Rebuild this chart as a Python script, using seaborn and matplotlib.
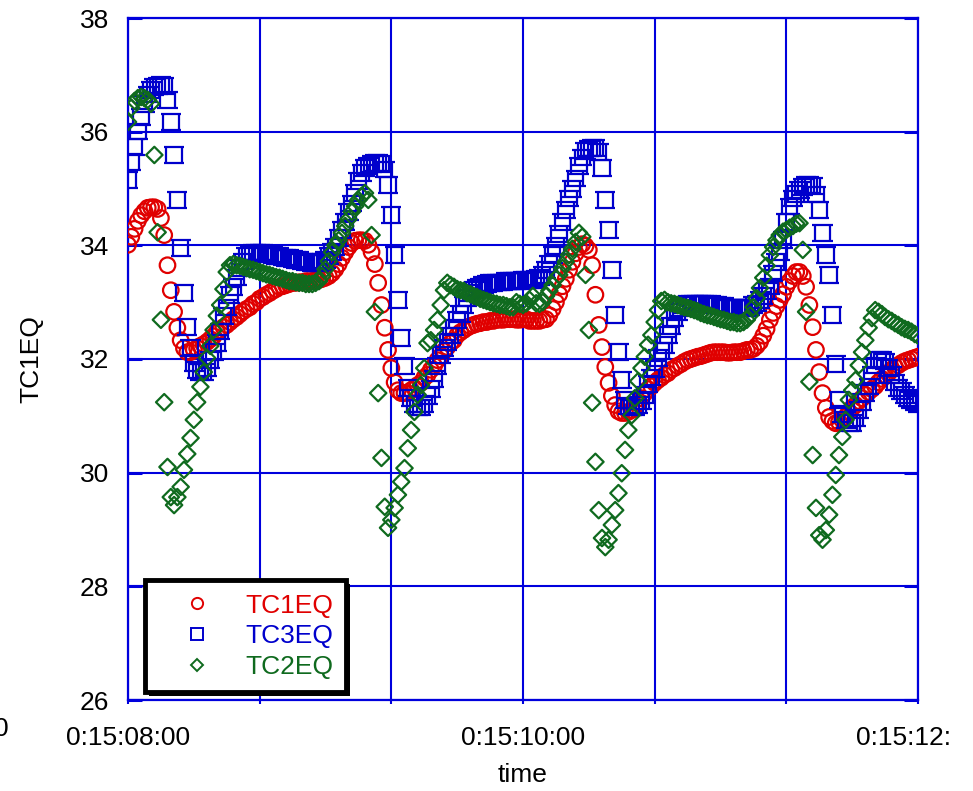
import numpy as np
import pandas as pd
import matplotlib
matplotlib.use("Agg")
import matplotlib.pyplot as plt
from matplotlib.path import Path
from matplotlib.lines import Line2D
from matplotlib.patches import Rectangle
from matplotlib.transforms import IdentityTransform, Bbox
import seaborn as sns

# ---- data: three thermocouple channels sampled at 60 Hz ----
SAMPLE_RATE = 60  # samples per second

tc1eq = [
    34.01, 34.15, 34.29, 34.43, 34.53, 34.60, 34.66, 34.67, 34.67, 34.64,
    34.48, 34.18, 33.65, 33.21, 32.83, 32.55, 32.33, 32.19, 32.12, 32.12,
    32.16, 32.19, 32.23, 32.26, 32.30, 32.35, 32.40, 32.47, 32.51, 32.56,
    32.60, 32.65, 32.70, 32.74, 32.79, 32.84, 32.88, 32.91, 32.97, 33.00,
    33.06, 33.09, 33.13, 33.16, 33.20, 33.23, 33.27, 33.28, 33.30, 33.32,
    33.34, 33.34, 33.35, 33.35, 33.37, 33.37, 33.37, 33.39, 33.39, 33.41,
    33.43, 33.46, 33.51, 33.58, 33.67, 33.78, 33.88, 33.97, 34.04, 34.08,
    34.09, 34.09, 34.08, 34.01, 33.88, 33.67, 33.34, 32.95, 32.55, 32.16,
    31.84, 31.59, 31.45, 31.40, 31.40, 31.40, 31.45, 31.49, 31.54, 31.58,
    31.67, 31.72, 31.81, 31.88, 31.98, 32.05, 32.14, 32.21, 32.28, 32.33,
    32.42, 32.47, 32.51, 32.55, 32.58, 32.60, 32.62, 32.63, 32.65, 32.65,
    32.67, 32.67, 32.69, 32.69, 32.69, 32.70, 32.70, 32.70, 32.69, 32.69,
    32.70, 32.70, 32.67, 32.67, 32.67, 32.67, 32.69, 32.70, 32.77, 32.88,
    33.00, 33.14, 33.28, 33.41, 33.57, 33.71, 33.86, 33.97, 34.02, 33.99,
    33.92, 33.65, 33.13, 32.60, 32.21, 31.86, 31.58, 31.35, 31.19, 31.08,
    31.05, 31.05, 31.07, 31.10, 31.15, 31.22, 31.31, 31.40, 31.47, 31.52,
    31.58, 31.63, 31.67, 31.72, 31.75, 31.81, 31.84, 31.88, 31.91, 31.95,
    31.98, 32.00, 32.02, 32.04, 32.05, 32.07, 32.09, 32.11, 32.12, 32.12,
    32.12, 32.12, 32.11, 32.11, 32.12, 32.12, 32.12, 32.14, 32.16, 32.16,
    32.18, 32.23, 32.30, 32.41, 32.53, 32.69, 32.81, 32.93, 33.04, 33.14,
    33.27, 33.37, 33.46, 33.53, 33.53, 33.46, 33.27, 32.95, 32.56, 32.16,
    31.77, 31.40, 31.14, 30.98, 30.91, 30.87, 30.89, 30.93, 30.98, 31.07,
    31.14, 31.19, 31.26, 31.31, 31.37, 31.42, 31.47, 31.52, 31.59, 31.65,
    31.70, 31.75, 31.81, 31.86, 31.89, 31.93, 31.96, 31.98, 32.00, 32.02, 32.04,
]

tc3eq = [
    35.15, 35.47, 35.73, 36.00, 36.26, 36.49, 36.65, 36.73, 36.79, 36.80,
    36.82, 36.80, 36.56, 36.17, 35.59, 34.80, 33.95, 33.16, 32.56, 32.19,
    31.93, 31.81, 31.77, 31.77, 31.84, 31.98, 32.12, 32.28, 32.48, 32.76,
    32.91, 33.13, 33.27, 33.43, 33.60, 33.72, 33.81, 33.85, 33.87, 33.87,
    33.87, 33.87, 33.85, 33.85, 33.83, 33.81, 33.81, 33.79, 33.78, 33.78,
    33.76, 33.74, 33.74, 33.72, 33.71, 33.71, 33.69, 33.69, 33.69, 33.71,
    33.74, 33.81, 33.88, 33.97, 34.13, 34.27, 34.41, 34.59, 34.74, 34.92,
    35.13, 35.27, 35.36, 35.40, 35.43, 35.45, 35.45, 35.43, 35.33, 35.06,
    34.53, 33.83, 33.04, 32.37, 31.88, 31.49, 31.31, 31.21, 31.15, 31.15,
    31.21, 31.35, 31.47, 31.65, 31.88, 32.07, 32.19, 32.30, 32.41, 32.55,
    32.69, 32.79, 32.95, 33.07, 33.16, 33.21, 33.25, 33.27, 33.30, 33.32,
    33.34, 33.34, 33.35, 33.35, 33.35, 33.37, 33.37, 33.37, 33.37, 33.37,
    33.39, 33.39, 33.39, 33.39, 33.41, 33.43, 33.48, 33.57, 33.67, 33.83,
    33.99, 34.20, 34.41, 34.62, 34.82, 34.99, 35.18, 35.40, 35.55, 35.66,
    35.70, 35.71, 35.71, 35.64, 35.36, 34.80, 34.27, 33.57, 32.77, 32.12,
    31.63, 31.28, 31.17, 31.15, 31.15, 31.19, 31.26, 31.37, 31.56, 31.67,
    31.82, 32.02, 32.14, 32.25, 32.42, 32.58, 32.72, 32.83, 32.90, 32.95,
    32.97, 32.98, 32.98, 32.98, 32.98, 32.98, 32.97, 32.97, 32.95, 32.95,
    32.93, 32.93, 32.91, 32.91, 32.91, 32.90, 32.90, 32.90, 32.90, 32.91,
    32.95, 32.98, 33.04, 33.11, 33.20, 33.28, 33.50, 33.71, 33.88, 34.09,
    34.41, 34.68, 34.82, 34.90, 34.97, 35.03, 35.06, 35.06, 35.04, 34.89,
    34.62, 34.22, 33.83, 33.48, 32.77, 31.91, 31.28, 31.03, 30.93, 30.87,
    30.87, 30.96, 31.10, 31.24, 31.40, 31.52, 31.72, 31.89, 31.98, 31.98,
    31.96, 31.84, 31.72, 31.59, 31.49, 31.44, 31.37, 31.31, 31.28, 31.24, 31.21,
]

tc2eq = [
    36.17, 36.42, 36.54, 36.59, 36.61, 36.59, 36.56, 36.49, 35.59, 34.23,
    32.69, 31.24, 30.10, 29.57, 29.43, 29.57, 29.75, 30.05, 30.33, 30.61,
    30.93, 31.24, 31.51, 31.77, 32.02, 32.23, 32.51, 32.76, 32.95, 33.23,
    33.53, 33.65, 33.67, 33.65, 33.64, 33.62, 33.60, 33.58, 33.57, 33.55,
    33.53, 33.51, 33.49, 33.48, 33.46, 33.44, 33.43, 33.41, 33.39, 33.37,
    33.37, 33.35, 33.34, 33.34, 33.32, 33.32, 33.32, 33.34, 33.37, 33.46,
    33.58, 33.72, 33.88, 34.00, 34.09, 34.22, 34.34, 34.46, 34.59, 34.69,
    34.80, 34.87, 34.92, 34.80, 34.18, 32.83, 31.40, 30.26, 29.40, 29.03,
    29.17, 29.38, 29.61, 29.84, 30.08, 30.43, 30.75, 31.07, 31.37, 31.54,
    31.84, 32.28, 32.33, 32.51, 32.69, 32.95, 33.21, 33.34, 33.30, 33.27,
    33.23, 33.21, 33.20, 33.16, 33.14, 33.11, 33.09, 33.06, 33.04, 33.02,
    33.00, 32.98, 32.97, 32.95, 32.95, 32.93, 32.91, 32.91, 33.00, 32.97,
    32.95, 32.98, 33.04, 33.11, 32.98, 32.97, 33.00, 33.11, 33.20, 33.30,
    33.41, 33.48, 33.60, 33.71, 33.83, 33.94, 34.06, 34.22, 34.15, 33.48,
    32.51, 31.23, 30.19, 29.34, 28.85, 28.69, 28.82, 29.08, 29.34, 29.64,
    29.99, 30.40, 30.75, 31.01, 31.31, 31.61, 31.84, 32.04, 32.25, 32.42,
    32.65, 32.86, 33.02, 33.04, 33.00, 32.98, 32.97, 32.95, 32.93, 32.91,
    32.90, 32.88, 32.86, 32.84, 32.81, 32.79, 32.77, 32.76, 32.74, 32.72,
    32.70, 32.69, 32.67, 32.65, 32.65, 32.63, 32.63, 32.65, 32.69, 32.77,
    32.91, 33.07, 33.25, 33.43, 33.64, 33.83, 33.97, 34.09, 34.18, 34.24,
    34.27, 34.31, 34.34, 34.38, 34.39, 33.92, 32.83, 31.60, 30.31, 29.38,
    28.90, 28.82, 28.99, 29.26, 29.61, 29.96, 30.31, 30.63, 30.93, 31.28,
    31.45, 31.63, 31.89, 32.12, 32.33, 32.55, 32.72, 32.86, 32.83, 32.79,
    32.74, 32.70, 32.67, 32.63, 32.60, 32.56, 32.53, 32.51, 32.48, 32.44, 32.41,
]

series_names = ["TC1EQ", "TC3EQ", "TC2EQ"]
x_tick_pos = [0, 2 / 3, 4 / 3, 2, 8 / 3, 10 / 3, 4]
x_tick_labels = ["0:15:08:00", "", "", "0:15:10:00", "", "", "0:15:12:00"]
y_ticks = [26, 28, 30, 32, 34, 36, 38]

time_s = np.arange(len(tc1eq)) / SAMPLE_RATE
df = pd.DataFrame({"time": time_s, "TC1EQ": tc1eq, "TC3EQ": tc3eq, "TC2EQ": tc2eq})

# ---- styling ----
sns.set_theme(style="white")
plt.rcParams["font.family"] = ["Liberation Sans", "DejaVu Sans"]

GRID_BLUE = "#0000dd"
RED = "#e00000"
BLUE = "#0000cc"
GREEN = "#0f6a1e"
FS = 19

# square marker with overhanging top and bottom edges
sq_verts = [(-1.3, 1), (1.3, 1), (-1.3, -1), (1.3, -1),
            (-1, 1), (-1, -1), (1, 1), (1, -1)]
sq_codes = [Path.MOVETO, Path.LINETO] * 4
square_marker = Path(sq_verts, sq_codes)

styles = {
    "TC1EQ": dict(marker="o", color=RED, s=125, lw=1.6, ms=9.5),
    "TC3EQ": dict(marker=square_marker, color=BLUE, s=210, lw=1.6, ms=12.5),
    "TC2EQ": dict(marker="D", color=GREEN, s=70, lw=1.6, ms=7.0),
}

fig, ax = plt.subplots(figsize=(9.73, 7.91), dpi=100)
fig.subplots_adjust(left=128 / 973, right=918 / 973,
                    bottom=91 / 791, top=(791 - 18) / 791)

for name in ["TC1EQ", "TC3EQ", "TC2EQ"]:
    st = styles[name]
    sns.scatterplot(data=df, x="time", y=name, ax=ax, marker=st["marker"],
                    s=st["s"], facecolor="none", edgecolor=st["color"],
                    linewidth=st["lw"], zorder=3, legend=False)

ax.set_xlim(0, 4)
ax.set_ylim(26, 38)
ax.set_xticks(x_tick_pos)
ax.set_xticklabels(x_tick_labels)
ax.set_yticks(y_ticks)
ax.set_yticklabels([str(v) for v in y_ticks])

ax.grid(True, color=GRID_BLUE, linewidth=1.5, zorder=1)
ax.set_axisbelow(True)
for sp in ax.spines.values():
    sp.set_color(GRID_BLUE)
    sp.set_linewidth(1.6)
    sp.set_visible(True)

ax.tick_params(axis="x", direction="out", length=3, width=1.5, color=GRID_BLUE,
               labelsize=FS, labelcolor="black", pad=15.5)
ax.tick_params(axis="y", direction="in", length=10, width=2.2, color=GRID_BLUE,
               labelsize=FS, labelcolor="black", pad=13.5, right=True, left=True)
ax.tick_params(axis="x", bottom=True)

ax.set_xlabel("time", fontsize=FS, color="black")
ax.set_ylabel("TC1EQ", fontsize=FS, color="black")
ax.xaxis.set_label_coords(0.5, -0.092)
ax.yaxis.set_label_coords(-0.1076, 0.5)

fig.text(9 / 973, 62 / 791, "0", ha="right", va="center", fontsize=FS, color="black")

# ---- legend ----
handles = [
    Line2D([], [], linestyle="none", marker=styles[n]["marker"],
           markerfacecolor="none", markeredgecolor=styles[n]["color"],
           markersize=styles[n]["ms"] * 0.85, markeredgewidth=1.4)
    for n in series_names
]
leg = ax.legend(handles, series_names, loc="lower left",
                bbox_to_anchor=((145 - 128) / 790, (700 - 692) / 682),
                borderaxespad=0, fontsize=FS, borderpad=0.5, handlelength=2.95,
                handletextpad=0.34, labelspacing=0.25, frameon=True,
                fancybox=False, framealpha=1, edgecolor="black",
                labelcolor=[styles[n]["color"] for n in series_names])
leg.get_frame().set_linewidth(3.5)
leg.set_zorder(6)

fig.canvas.draw()
bb = leg.get_window_extent(fig.canvas.get_renderer())
shadow = Rectangle((bb.x0 + 4, bb.y0 - 4), bb.width, bb.height,
                   transform=IdentityTransform(), facecolor="black",
                   edgecolor="none", zorder=5.9, clip_on=False)
ax.add_artist(shadow)

# the last time label runs past the drawing area and is cut short there
last_label = ax.xaxis.get_major_ticks()[-1].label1
last_label.set_clip_box(Bbox.from_extents(0, 0, 950, 791))
last_label.set_clip_on(True)

fig.savefig("out.png", dpi=100)
